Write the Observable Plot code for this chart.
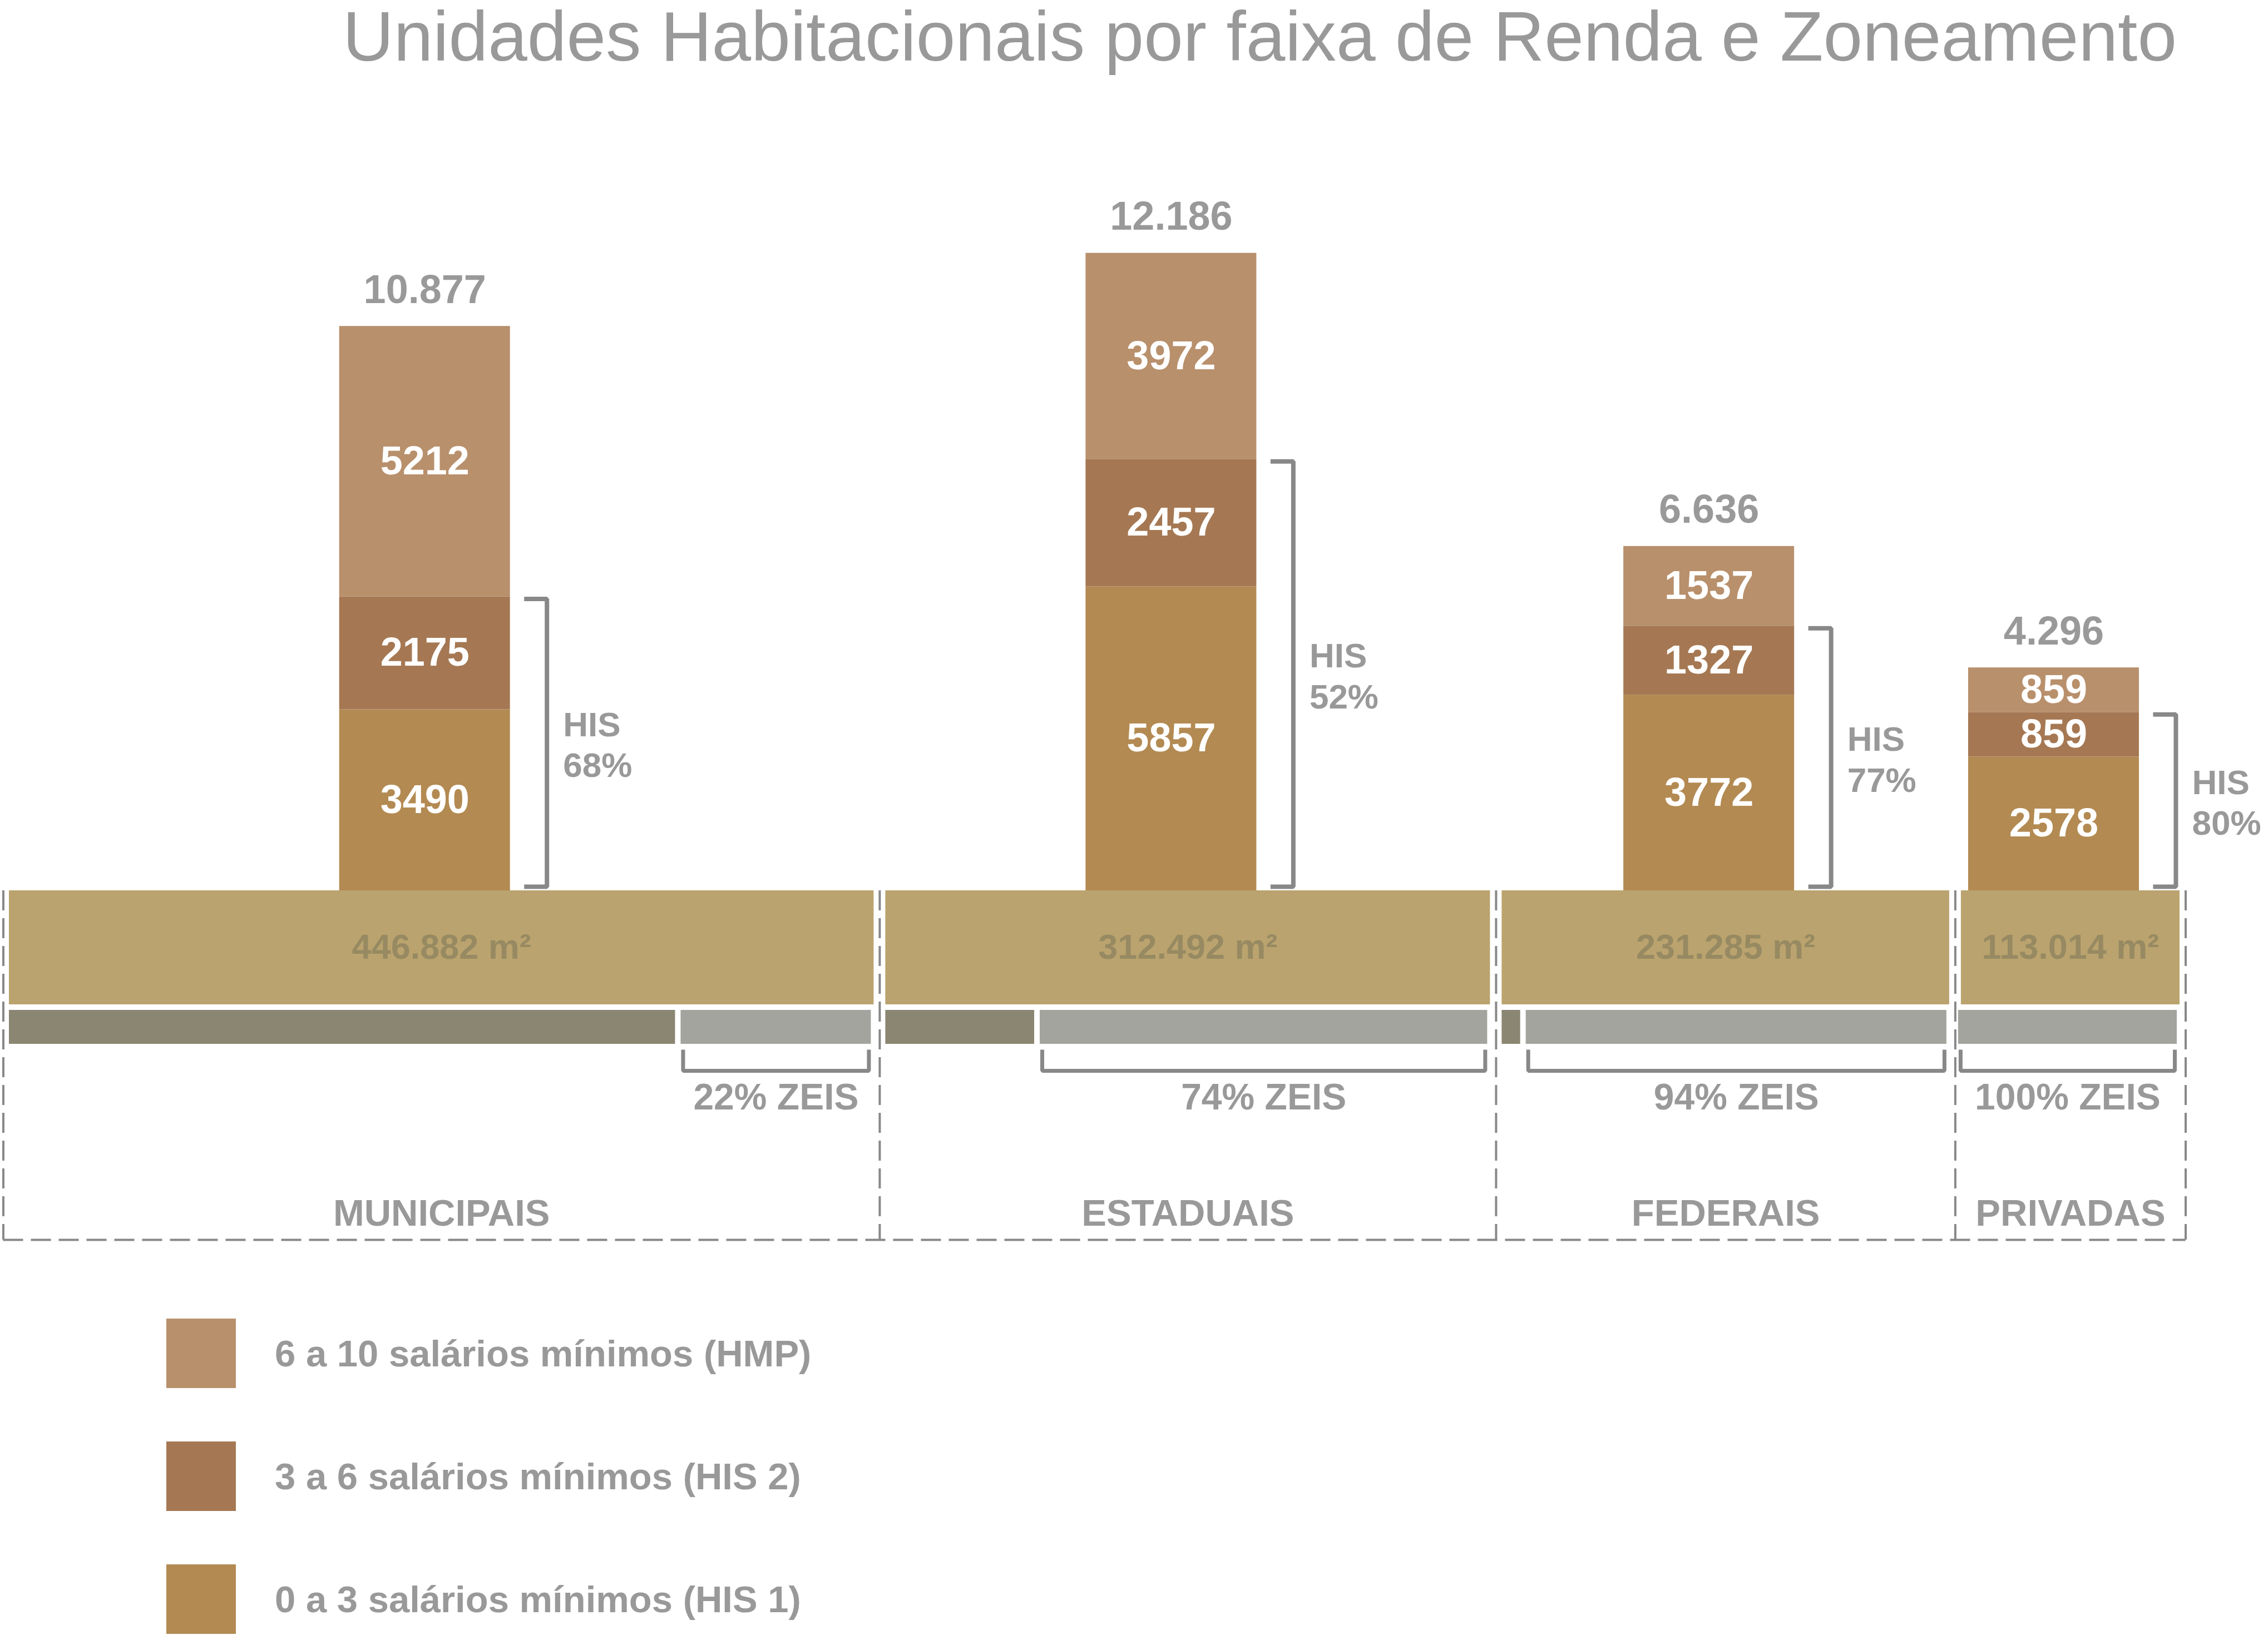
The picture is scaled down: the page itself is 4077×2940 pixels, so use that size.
<!DOCTYPE html>
<html><head><meta charset="utf-8">
<script src="https://cdn.jsdelivr.net/npm/d3@7"></script>
<script src="https://cdn.jsdelivr.net/npm/@observablehq/plot@0.6"></script>
<style>
html,body{margin:0;padding:0;background:#fff;}
body{width:4077px;height:2940px;position:relative;overflow:hidden;font-family:"Liberation Sans",Arial,Helvetica,sans-serif;}
#title{position:absolute;left:616px;top:2px;font-size:127px;line-height:127px;color:#999;white-space:nowrap;}
#chart{position:absolute;left:0;top:150px;}
#legend{position:absolute;left:299px;top:2371px;}
.item{display:flex;align-items:center;height:125px;margin-bottom:96px;}
.sw{width:125px;height:125px;flex:none;}
.lab{margin-left:70px;font-size:67px;line-height:1;font-weight:bold;color:#999;white-space:nowrap;}
</style></head><body>
<div id="title">Unidades Habitacionais por faixa de Renda e Zoneamento</div>
<div id="chart"></div>
<div id="legend"></div>
<script>
// ---- data ----
const categories = ["MUNICIPAIS", "ESTADUAIS", "FEDERAIS", "PRIVADAS"];
const his1 = [3490, 5857, 3772, 2578];
const his2 = [2175, 2457, 1327, 859];
const hmp = [5212, 3972, 1537, 859];
const totals = [10877, 12186, 6636, 4296];
const hisPct = [68, 52, 77, 80];
const areas = [446882, 312492, 231285, 113014];
const zeisPct = [22, 74, 94, 100];
const bands = ["6 a 10 salários mínimos (HMP)", "3 a 6 salários mínimos (HIS 2)", "0 a 3 salários mínimos (HIS 1)"];
const bandColors = ["#b8906c", "#a57853", "#b38a52"];

// ---- layout ----
const W = 4077, H = 2210, BASE = 1451, KY = 0.0933;
const X0 = 16, X1 = 3918, GAP = 21;
const totalArea = d3.sum(areas);
const KX = (X1 - X0 - 3 * GAP) / totalArea;
const px = p => p / KX;   // pixels -> x units
const py = p => p / KY;   // pixels -> y units
const G = px(GAP);
const fmt = d3.formatLocale({decimal: ",", thousands: ".", grouping: [3], currency: ["", ""]}).format(",d");

let acc = 0;
const groups = categories.map((c, i) => {
  const off = acc; acc += areas[i] + G;
  const area = areas[i];
  const cx = off + area / 2;
  const bc = cx - px(30);
  const halfW = px(153.5);
  const lx2 = off + area - px(5);
  const lx1 = lx2 - area * zeisPct[i] / 100;
  return {i, c, off, area, cx, bc, bl: bc - halfW, br: bc + halfW,
    lx1, lx2, dx1: off, dx2: lx1 - px(10),
    hisTop: his1[i] + his2[i], top: his1[i] + his2[i] + hmp[i]};
});

const segs = groups.flatMap(g => [
  {g: g.i, band: bands[2], v: his1[g.i], y1: 0, y2: his1[g.i]},
  {g: g.i, band: bands[1], v: his2[g.i], y1: his1[g.i], y2: his1[g.i] + his2[g.i]},
  {g: g.i, band: bands[0], v: hmp[g.i], y1: his1[g.i] + his2[g.i], y2: g.top}
]).map(s => ({...s, x1: groups[s.g].bl, x2: groups[s.g].br, bc: groups[s.g].bc}));

const hisBr = groups.flatMap(g => {
  const xa = g.br + px(25), xb = g.br + px(66);
  const yt = g.hisTop - py(4), yb = py(7);
  return [[xa, yt], [xb, yt], [xb, yb], [xa, yb]].map(([x, y]) => ({g: g.i, x, y}));
});
const zeisBr = groups.flatMap(g => {
  const a = g.lx1 + px(4), b = g.lx2 - px(4);
  return [[a, -py(286)], [a, -py(324)], [b, -py(324)], [b, -py(286)]].map(([x, y]) => ({g: g.i, x, y}));
});
const bounds = groups.map(g => g.off - G / 2).concat([groups[3].off + groups[3].area + G / 2]);

const gray = "#999999", lineGray = "#888888";
const chart = Plot.plot({
  width: W, height: H,
  marginTop: 0, marginRight: 0, marginBottom: 0, marginLeft: 0,
  x: {domain: [0, totalArea + 3 * G], range: [X0, X1], axis: null},
  y: {domain: [-py(630), 13500], range: [BASE + 630, BASE - 13500 * KY], axis: null},
  color: {domain: bands, range: bandColors},
  style: {fontFamily: '"Liberation Sans", Arial, Helvetica, sans-serif', background: "white"},
  marks: [
    // area bars
    Plot.rect(groups, {x1: "off", x2: d => d.off + d.area, y1: 0, y2: -py(205), fill: "#baa36e"}),
    Plot.text(groups, {x: "cx", y: -py(102), text: d => fmt(d.area) + " m²", fill: "#978a62", fontSize: 63, fontWeight: "bold"}),
    // non-ZEIS / ZEIS bars
    Plot.rect(groups.filter(g => g.dx2 > g.dx1), {x1: "dx1", x2: "dx2", y1: -py(215), y2: -py(276), fill: "#8a8672"}),
    Plot.rect(groups, {x1: "lx1", x2: "lx2", y1: -py(215), y2: -py(276), fill: "#a4a49e"}),
    Plot.line(zeisBr, {x: "x", y: "y", z: "g", stroke: lineGray, strokeWidth: 7, strokeLinejoin: "miter", strokeLinecap: "butt"}),
    Plot.text(groups, {x: d => (d.lx1 + d.lx2) / 2, y: -py(372), text: d => zeisPct[d.i] + "% ZEIS", fill: gray, fontSize: 66, fontWeight: "bold"}),
    // category labels and dashed frames
    Plot.text(groups, {x: "cx", y: -py(581), text: "c", fill: gray, fontSize: 67, fontWeight: "bold"}),
    Plot.ruleX(bounds, {x: d => d, y1: 0, y2: -py(628), stroke: lineGray, strokeWidth: 4, strokeDasharray: "36,14"}),
    Plot.ruleY([-py(628)], {x1: bounds[0], x2: bounds[4], stroke: lineGray, strokeWidth: 4, strokeDasharray: "36,14"}),
    // stacked housing units
    Plot.rect(segs, {x1: "x1", x2: "x2", y1: "y1", y2: "y2", fill: "band"}),
    Plot.text(segs, {x: "bc", y: d => (d.y1 + d.y2) / 2, text: d => String(d.v), fill: "white", fontSize: 72, fontWeight: "bold"}),
    Plot.text(groups, {x: "bc", y: "top", dy: -65, text: d => fmt(totals[d.i]), fill: gray, fontSize: 72, fontWeight: "bold"}),
    // HIS brackets
    Plot.line(hisBr, {x: "x", y: "y", z: "g", stroke: lineGray, strokeWidth: 8, strokeLinejoin: "miter", strokeLinecap: "butt"}),
    Plot.text(groups, {x: d => d.br + px(95), y: d => d.hisTop / 2, text: d => "HIS\n" + hisPct[d.i] + "%", textAnchor: "start", lineHeight: 1.18, fill: gray, fontSize: 62, fontWeight: "bold"})
  ]
});
document.getElementById("chart").appendChild(chart);

// legend
const leg = document.getElementById("legend");
bands.forEach((b, i) => {
  const it = document.createElement("div"); it.className = "item";
  const sw = document.createElement("div"); sw.className = "sw"; sw.style.background = bandColors[i];
  const lab = document.createElement("div"); lab.className = "lab"; lab.textContent = b;
  it.appendChild(sw); it.appendChild(lab); leg.appendChild(it);
});
</script>
</body></html>
